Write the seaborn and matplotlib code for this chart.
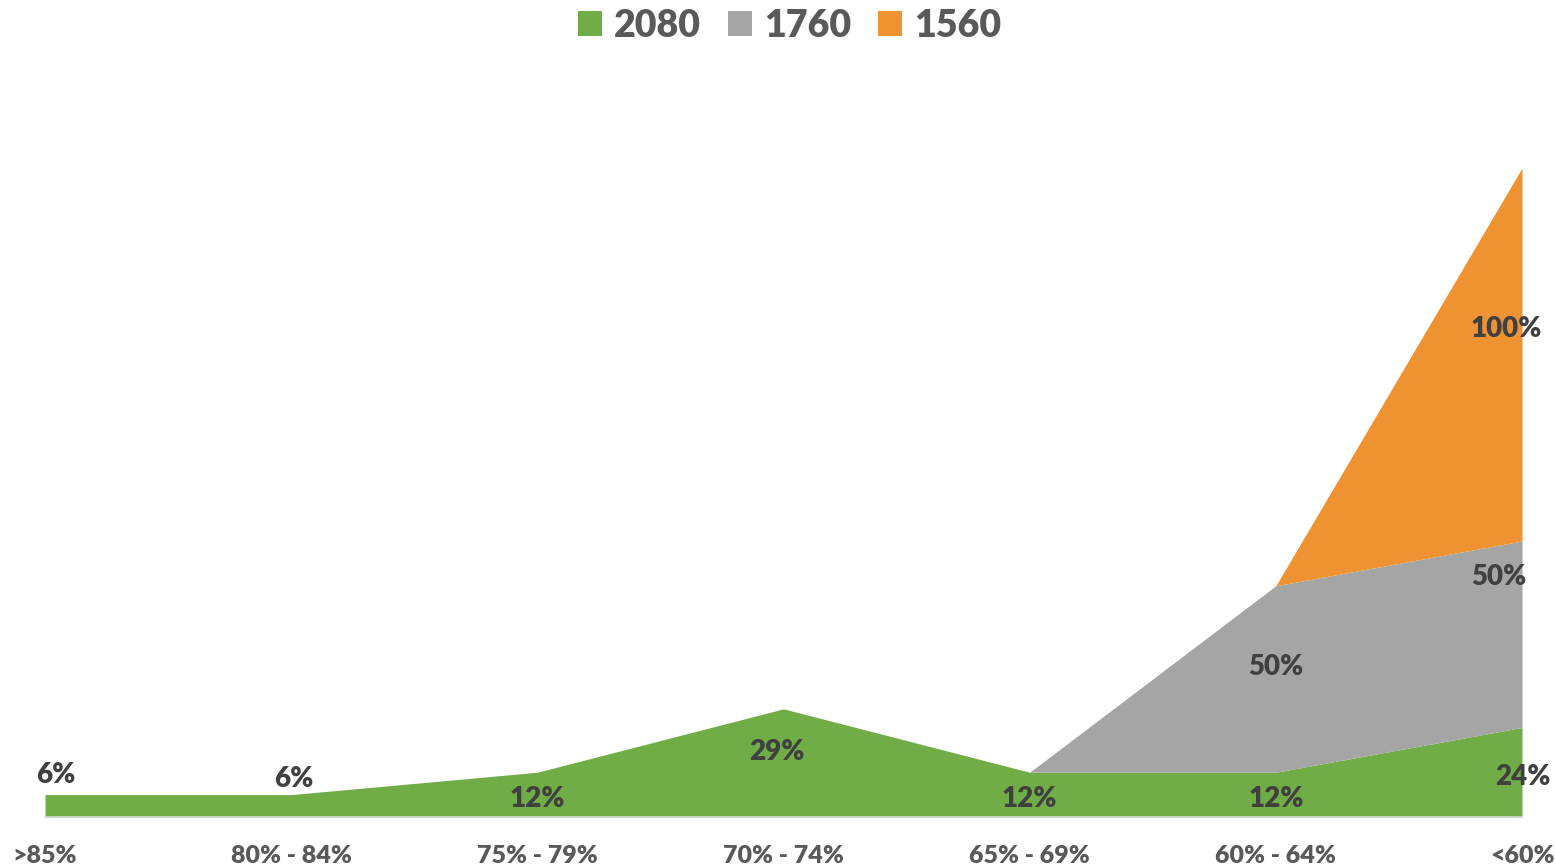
import matplotlib
matplotlib.use("Agg")
import matplotlib.pyplot as plt
import seaborn as sns
import numpy as np
from matplotlib.patches import Patch

# data
categories = [">85%", "80% - 84%", "75% - 79%", "70% - 74%", "65% - 69%", "60% - 64%", "<60%"]
s2080 = [6, 6, 12, 29, 12, 12, 24]
s1760 = [0, 0, 0, 0, 0, 50, 50]
s1560 = [0, 0, 0, 0, 0, 0, 100]
series_names = ["2080", "1760", "1560"]
colors = ["#70AD47", "#A5A5A5", "#EE9232"]

# where each data label sits (x shift in categories, y in data units); None = no label
label_pos = [
    [(0.045, 11.3), (0.01, 10.2), (0, 4.9), (-0.025, 17.5), (0, 4.9), (0, 4.9), (0.005, 10.8)],
    [None, None, None, None, None, (0, 40.3), (-0.095, 64.4)],
    [None, None, None, None, None, None, (-0.065, 130.9)],
]

sns.set_style("white")
plt.rcParams["font.family"] = ["Lato", "DejaVu Sans"]

fig = plt.figure(figsize=(15.55, 8.67), dpi=100)
ax = fig.add_axes([45 / 1555, 50 / 867, 1477 / 1555, 746 / 867])
x = np.arange(len(categories))
values = [s2080, s1760, s1560]
ax.stackplot(x, *values, colors=colors, linewidth=0, antialiased=True)

ax.set_xlim(0, len(categories) - 1)
ax.set_ylim(0, 200)
ax.set_xticks(x)
ax.set_xticklabels(categories, fontsize=18, fontweight="heavy", color="#595959")
ax.set_yticks([])
for sp in ["top", "right", "left"]:
    ax.spines[sp].set_visible(False)
ax.spines["bottom"].set_color("#D9D9D9")
ax.spines["bottom"].set_linewidth(1.2)
ax.tick_params(axis="x", direction="out", length=7, width=1.2, color="#D9D9D9", pad=13)

for vals, poss in zip(values, label_pos):
    for i, (v, p) in enumerate(zip(vals, poss)):
        if p is None:
            continue
        ax.text(i + p[0], p[1], f"{v}%", ha="center", va="center",
                fontsize=20, fontweight="heavy", color="#404040")

handles = [Patch(facecolor=c, edgecolor="none") for c in colors]
fig.legend(handles, series_names, loc="center", bbox_to_anchor=(0.508, 0.97), ncol=3,
           frameon=False, prop=dict(weight="heavy", size=27), labelcolor="#595959",
           handlelength=0.64, handleheight=0.64, handletextpad=0.32, columnspacing=0.72)

fig.savefig("out.png", dpi=100)
